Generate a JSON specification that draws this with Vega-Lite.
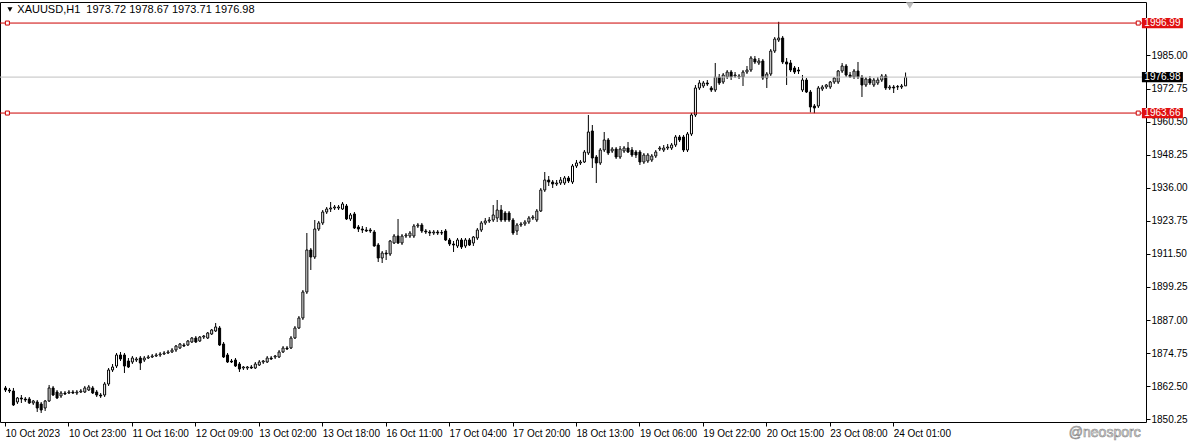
{
"$schema":"https://vega.github.io/schema/vega-lite/v6.json",
"width":1146,"height":420,
"autosize":{"type":"none"},
"padding":{"left":0,"top":2,"right":44,"bottom":21},
"background":"white",
"config":{"view":{"stroke":"#000000","strokeWidth":1},"font":"Liberation Sans","axis":{"labelFont":"Liberation Sans","labelFontSize":10,"labelColor":"#000000","tickColor":"#000000","grid":false,"domain":false,"title":null,"labelOverlap":false,"labelFlush":false,"labelBound":false},"axisY":{"labelOverlap":false,"tickCount":12}},
"datasets":{
"bars":[
{"i":0,"o":1861.83,"h":1862.57,"l":1860.34,"c":1861.08},
{"i":1,"o":1861.08,"h":1861.83,"l":1859.97,"c":1860.71},
{"i":2,"o":1860.71,"h":1861.83,"l":1855.16,"c":1855.53},
{"i":3,"o":1856.64,"h":1858.49,"l":1855.90,"c":1858.12},
{"i":4,"o":1858.12,"h":1859.23,"l":1856.27,"c":1857.75},
{"i":5,"o":1857.75,"h":1858.49,"l":1856.64,"c":1857.38},
{"i":6,"o":1857.75,"h":1858.49,"l":1855.90,"c":1856.27},
{"i":7,"o":1856.27,"h":1857.38,"l":1855.53,"c":1857.01},
{"i":8,"o":1856.64,"h":1857.38,"l":1852.94,"c":1854.42},
{"i":9,"o":1855.90,"h":1856.64,"l":1852.57,"c":1853.68},
{"i":10,"o":1854.42,"h":1857.38,"l":1853.31,"c":1857.01},
{"i":11,"o":1857.01,"h":1862.94,"l":1856.64,"c":1861.83},
{"i":12,"o":1861.83,"h":1862.57,"l":1858.86,"c":1859.23},
{"i":13,"o":1860.34,"h":1861.08,"l":1857.75,"c":1858.12},
{"i":14,"o":1858.86,"h":1860.71,"l":1858.12,"c":1859.97},
{"i":15,"o":1859.97,"h":1860.71,"l":1859.23,"c":1859.60},
{"i":16,"o":1859.97,"h":1861.08,"l":1859.60,"c":1860.34},
{"i":17,"o":1860.34,"h":1861.08,"l":1859.60,"c":1859.97},
{"i":18,"o":1859.97,"h":1861.08,"l":1859.23,"c":1860.34},
{"i":19,"o":1860.34,"h":1861.45,"l":1859.97,"c":1860.71},
{"i":20,"o":1860.34,"h":1862.57,"l":1859.97,"c":1861.83},
{"i":21,"o":1861.08,"h":1862.94,"l":1860.71,"c":1862.20},
{"i":22,"o":1861.83,"h":1862.57,"l":1859.60,"c":1859.97},
{"i":23,"o":1860.34,"h":1861.08,"l":1858.49,"c":1859.23},
{"i":24,"o":1859.23,"h":1859.97,"l":1858.12,"c":1858.86},
{"i":25,"o":1859.23,"h":1864.05,"l":1858.49,"c":1863.31},
{"i":26,"o":1863.31,"h":1869.23,"l":1862.57,"c":1868.49},
{"i":27,"o":1868.49,"h":1870.71,"l":1867.75,"c":1869.60},
{"i":28,"o":1869.97,"h":1874.79,"l":1869.23,"c":1874.05},
{"i":29,"o":1874.05,"h":1875.16,"l":1871.82,"c":1872.56},
{"i":30,"o":1874.05,"h":1874.79,"l":1867.38,"c":1869.97},
{"i":31,"o":1871.82,"h":1872.93,"l":1869.23,"c":1869.60},
{"i":32,"o":1871.45,"h":1873.68,"l":1870.71,"c":1872.93},
{"i":33,"o":1872.19,"h":1873.31,"l":1871.45,"c":1872.56},
{"i":34,"o":1872.93,"h":1873.68,"l":1868.49,"c":1871.08},
{"i":35,"o":1872.19,"h":1873.68,"l":1871.45,"c":1872.93},
{"i":36,"o":1872.93,"h":1874.05,"l":1872.56,"c":1873.31},
{"i":37,"o":1873.31,"h":1874.42,"l":1872.93,"c":1873.68},
{"i":38,"o":1873.68,"h":1874.79,"l":1873.31,"c":1874.05},
{"i":39,"o":1874.05,"h":1875.16,"l":1873.31,"c":1874.42},
{"i":40,"o":1874.42,"h":1875.53,"l":1874.05,"c":1874.79},
{"i":41,"o":1874.79,"h":1875.90,"l":1874.42,"c":1875.16},
{"i":42,"o":1875.16,"h":1876.64,"l":1874.79,"c":1875.90},
{"i":43,"o":1875.90,"h":1877.75,"l":1875.16,"c":1877.38},
{"i":44,"o":1876.64,"h":1878.49,"l":1876.27,"c":1878.12},
{"i":45,"o":1877.75,"h":1878.49,"l":1877.01,"c":1877.38},
{"i":46,"o":1877.75,"h":1879.60,"l":1877.38,"c":1879.23},
{"i":47,"o":1878.86,"h":1880.71,"l":1878.49,"c":1880.34},
{"i":48,"o":1880.34,"h":1881.08,"l":1878.49,"c":1878.86},
{"i":49,"o":1879.23,"h":1881.08,"l":1878.86,"c":1880.71},
{"i":50,"o":1880.71,"h":1881.45,"l":1879.97,"c":1881.08},
{"i":51,"o":1880.34,"h":1882.57,"l":1879.97,"c":1882.20},
{"i":52,"o":1881.82,"h":1883.68,"l":1881.45,"c":1883.31},
{"i":53,"o":1882.94,"h":1885.90,"l":1882.57,"c":1884.42},
{"i":54,"o":1884.05,"h":1884.79,"l":1877.38,"c":1877.75},
{"i":55,"o":1878.12,"h":1878.86,"l":1872.93,"c":1873.31},
{"i":56,"o":1874.05,"h":1874.79,"l":1871.08,"c":1871.45},
{"i":57,"o":1871.82,"h":1872.56,"l":1871.08,"c":1871.45},
{"i":58,"o":1872.19,"h":1872.93,"l":1869.60,"c":1869.97},
{"i":59,"o":1870.71,"h":1871.45,"l":1867.75,"c":1868.86},
{"i":60,"o":1869.23,"h":1869.97,"l":1868.49,"c":1869.60},
{"i":61,"o":1869.23,"h":1869.97,"l":1868.49,"c":1869.60},
{"i":62,"o":1869.60,"h":1870.34,"l":1868.86,"c":1869.23},
{"i":63,"o":1869.23,"h":1871.45,"l":1868.86,"c":1870.71},
{"i":64,"o":1870.34,"h":1872.19,"l":1869.97,"c":1871.45},
{"i":65,"o":1871.45,"h":1872.19,"l":1870.71,"c":1871.82},
{"i":66,"o":1871.45,"h":1873.68,"l":1871.08,"c":1872.93},
{"i":67,"o":1872.93,"h":1873.68,"l":1872.19,"c":1872.56},
{"i":68,"o":1873.31,"h":1874.05,"l":1872.56,"c":1873.68},
{"i":69,"o":1873.31,"h":1875.90,"l":1872.93,"c":1875.16},
{"i":70,"o":1875.16,"h":1877.38,"l":1874.79,"c":1876.64},
{"i":71,"o":1876.64,"h":1877.38,"l":1875.90,"c":1876.27},
{"i":72,"o":1876.64,"h":1881.08,"l":1876.27,"c":1880.34},
{"i":73,"o":1880.34,"h":1884.79,"l":1879.97,"c":1884.05},
{"i":74,"o":1884.05,"h":1888.49,"l":1883.68,"c":1887.75},
{"i":75,"o":1887.75,"h":1898.12,"l":1887.01,"c":1897.38},
{"i":76,"o":1897.38,"h":1919.23,"l":1896.64,"c":1912.94},
{"i":77,"o":1912.94,"h":1913.68,"l":1905.53,"c":1910.34},
{"i":78,"o":1910.34,"h":1924.05,"l":1909.60,"c":1920.71},
{"i":79,"o":1920.71,"h":1923.68,"l":1919.97,"c":1922.94},
{"i":80,"o":1922.94,"h":1927.75,"l":1922.20,"c":1927.01},
{"i":81,"o":1927.01,"h":1928.86,"l":1926.27,"c":1928.12},
{"i":82,"o":1928.12,"h":1930.71,"l":1927.01,"c":1928.49},
{"i":83,"o":1928.49,"h":1929.60,"l":1927.75,"c":1928.86},
{"i":84,"o":1928.49,"h":1929.60,"l":1927.75,"c":1928.86},
{"i":85,"o":1928.12,"h":1930.71,"l":1927.75,"c":1929.97},
{"i":86,"o":1929.23,"h":1929.97,"l":1924.05,"c":1924.42},
{"i":87,"o":1924.42,"h":1926.64,"l":1923.68,"c":1925.90},
{"i":88,"o":1926.27,"h":1927.01,"l":1920.71,"c":1921.08},
{"i":89,"o":1921.45,"h":1922.20,"l":1919.60,"c":1920.71},
{"i":90,"o":1920.71,"h":1921.82,"l":1919.23,"c":1920.34},
{"i":91,"o":1920.34,"h":1921.45,"l":1919.60,"c":1919.97},
{"i":92,"o":1920.34,"h":1921.08,"l":1919.23,"c":1919.97},
{"i":93,"o":1919.60,"h":1920.34,"l":1914.16,"c":1914.42},
{"i":94,"o":1914.79,"h":1915.53,"l":1908.49,"c":1909.97},
{"i":95,"o":1909.97,"h":1912.57,"l":1908.12,"c":1911.82},
{"i":96,"o":1911.82,"h":1912.94,"l":1909.23,"c":1911.45},
{"i":97,"o":1911.45,"h":1916.64,"l":1910.71,"c":1916.27},
{"i":98,"o":1915.53,"h":1918.86,"l":1915.16,"c":1918.12},
{"i":99,"o":1918.12,"h":1924.42,"l":1915.16,"c":1915.53},
{"i":100,"o":1915.53,"h":1918.86,"l":1914.79,"c":1918.12},
{"i":101,"o":1918.12,"h":1919.23,"l":1917.38,"c":1918.49},
{"i":102,"o":1918.12,"h":1919.97,"l":1917.38,"c":1919.23},
{"i":103,"o":1918.12,"h":1922.57,"l":1917.38,"c":1921.82},
{"i":104,"o":1921.82,"h":1922.94,"l":1921.08,"c":1922.20},
{"i":105,"o":1922.20,"h":1922.94,"l":1919.23,"c":1919.97},
{"i":106,"o":1919.97,"h":1920.71,"l":1918.86,"c":1919.60},
{"i":107,"o":1919.60,"h":1920.34,"l":1918.12,"c":1919.23},
{"i":108,"o":1919.23,"h":1920.34,"l":1918.49,"c":1919.60},
{"i":109,"o":1919.60,"h":1920.34,"l":1918.49,"c":1919.23},
{"i":110,"o":1919.23,"h":1920.34,"l":1918.49,"c":1919.40},
{"i":111,"o":1919.97,"h":1920.71,"l":1916.27,"c":1916.64},
{"i":112,"o":1916.64,"h":1917.38,"l":1914.42,"c":1915.16},
{"i":113,"o":1915.16,"h":1916.27,"l":1912.20,"c":1914.79},
{"i":114,"o":1914.42,"h":1917.38,"l":1913.68,"c":1916.64},
{"i":115,"o":1916.64,"h":1917.38,"l":1913.31,"c":1914.05},
{"i":116,"o":1914.42,"h":1917.38,"l":1913.68,"c":1916.64},
{"i":117,"o":1916.64,"h":1917.38,"l":1914.42,"c":1914.79},
{"i":118,"o":1915.53,"h":1918.12,"l":1914.42,"c":1917.75},
{"i":119,"o":1917.38,"h":1921.08,"l":1916.64,"c":1920.34},
{"i":120,"o":1920.34,"h":1923.68,"l":1919.60,"c":1922.94},
{"i":121,"o":1922.94,"h":1924.79,"l":1922.20,"c":1923.68},
{"i":122,"o":1923.68,"h":1925.16,"l":1922.94,"c":1924.05},
{"i":123,"o":1924.05,"h":1929.60,"l":1923.31,"c":1925.90},
{"i":124,"o":1924.79,"h":1931.46,"l":1923.31,"c":1927.75},
{"i":125,"o":1927.75,"h":1929.60,"l":1923.31,"c":1924.05},
{"i":126,"o":1926.64,"h":1927.38,"l":1923.31,"c":1924.05},
{"i":127,"o":1926.64,"h":1927.38,"l":1923.31,"c":1924.05},
{"i":128,"o":1924.05,"h":1924.79,"l":1918.49,"c":1919.23},
{"i":129,"o":1919.97,"h":1922.94,"l":1918.49,"c":1922.20},
{"i":130,"o":1922.20,"h":1923.31,"l":1921.45,"c":1922.57},
{"i":131,"o":1922.57,"h":1924.05,"l":1921.82,"c":1923.31},
{"i":132,"o":1923.31,"h":1925.53,"l":1922.57,"c":1924.79},
{"i":133,"o":1924.79,"h":1925.90,"l":1924.05,"c":1925.16},
{"i":134,"o":1924.05,"h":1928.12,"l":1923.31,"c":1927.38},
{"i":135,"o":1927.38,"h":1935.90,"l":1927.01,"c":1935.16},
{"i":136,"o":1935.16,"h":1941.82,"l":1934.42,"c":1938.86},
{"i":137,"o":1938.86,"h":1940.34,"l":1936.64,"c":1938.12},
{"i":138,"o":1938.12,"h":1938.86,"l":1935.90,"c":1937.38},
{"i":139,"o":1937.38,"h":1938.86,"l":1936.64,"c":1937.75},
{"i":140,"o":1937.75,"h":1939.97,"l":1937.01,"c":1938.86},
{"i":141,"o":1937.75,"h":1940.34,"l":1937.01,"c":1939.60},
{"i":142,"o":1939.60,"h":1940.34,"l":1937.75,"c":1938.49},
{"i":143,"o":1938.12,"h":1944.79,"l":1937.38,"c":1944.05},
{"i":144,"o":1944.05,"h":1946.27,"l":1943.31,"c":1945.16},
{"i":145,"o":1945.16,"h":1946.27,"l":1944.42,"c":1945.53},
{"i":146,"o":1945.53,"h":1949.97,"l":1945.16,"c":1949.23},
{"i":147,"o":1948.86,"h":1962.94,"l":1948.12,"c":1956.64},
{"i":148,"o":1957.01,"h":1959.23,"l":1943.31,"c":1947.01},
{"i":149,"o":1947.38,"h":1948.12,"l":1937.75,"c":1945.16},
{"i":150,"o":1945.16,"h":1950.71,"l":1944.42,"c":1949.97},
{"i":151,"o":1949.97,"h":1956.64,"l":1949.23,"c":1953.68},
{"i":152,"o":1953.68,"h":1954.42,"l":1948.12,"c":1948.86},
{"i":153,"o":1949.60,"h":1951.08,"l":1948.86,"c":1950.34},
{"i":154,"o":1950.34,"h":1951.08,"l":1946.64,"c":1947.38},
{"i":155,"o":1947.38,"h":1951.45,"l":1946.64,"c":1950.34},
{"i":156,"o":1949.60,"h":1951.45,"l":1948.86,"c":1950.71},
{"i":157,"o":1950.71,"h":1952.94,"l":1948.86,"c":1949.23},
{"i":158,"o":1949.97,"h":1951.08,"l":1947.38,"c":1948.12},
{"i":159,"o":1949.23,"h":1949.97,"l":1947.01,"c":1948.12},
{"i":160,"o":1949.23,"h":1949.97,"l":1944.42,"c":1945.53},
{"i":161,"o":1945.53,"h":1948.86,"l":1944.79,"c":1948.12},
{"i":162,"o":1945.90,"h":1948.86,"l":1945.16,"c":1948.12},
{"i":163,"o":1946.27,"h":1948.49,"l":1945.53,"c":1947.75},
{"i":164,"o":1947.75,"h":1949.97,"l":1947.01,"c":1949.23},
{"i":165,"o":1950.34,"h":1951.45,"l":1949.60,"c":1950.71},
{"i":166,"o":1949.97,"h":1951.82,"l":1949.23,"c":1950.71},
{"i":167,"o":1950.71,"h":1952.20,"l":1949.97,"c":1951.08},
{"i":168,"o":1950.71,"h":1952.57,"l":1949.97,"c":1951.82},
{"i":169,"o":1951.82,"h":1955.53,"l":1951.08,"c":1954.79},
{"i":170,"o":1954.79,"h":1955.53,"l":1952.94,"c":1953.68},
{"i":171,"o":1954.79,"h":1955.53,"l":1949.23,"c":1949.97},
{"i":172,"o":1949.97,"h":1956.64,"l":1949.23,"c":1955.90},
{"i":173,"o":1955.90,"h":1963.68,"l":1955.16,"c":1962.94},
{"i":174,"o":1962.94,"h":1974.05,"l":1962.20,"c":1972.94},
{"i":175,"o":1972.94,"h":1975.90,"l":1972.20,"c":1974.79},
{"i":176,"o":1973.68,"h":1975.53,"l":1972.94,"c":1974.79},
{"i":177,"o":1974.79,"h":1975.90,"l":1973.68,"c":1974.42},
{"i":178,"o":1972.94,"h":1973.68,"l":1971.45,"c":1972.20},
{"i":179,"o":1972.20,"h":1982.20,"l":1971.45,"c":1977.01},
{"i":180,"o":1977.01,"h":1978.12,"l":1974.05,"c":1974.79},
{"i":181,"o":1975.16,"h":1978.49,"l":1974.42,"c":1977.75},
{"i":182,"o":1977.01,"h":1979.60,"l":1976.27,"c":1978.86},
{"i":183,"o":1978.86,"h":1979.60,"l":1975.90,"c":1977.01},
{"i":184,"o":1977.38,"h":1978.86,"l":1976.64,"c":1977.75},
{"i":185,"o":1977.01,"h":1978.12,"l":1976.27,"c":1977.38},
{"i":186,"o":1977.01,"h":1979.60,"l":1973.68,"c":1978.86},
{"i":187,"o":1978.86,"h":1981.08,"l":1978.12,"c":1979.60},
{"i":188,"o":1979.60,"h":1984.79,"l":1978.86,"c":1984.05},
{"i":189,"o":1983.68,"h":1984.79,"l":1981.82,"c":1982.57},
{"i":190,"o":1982.20,"h":1984.05,"l":1981.45,"c":1982.94},
{"i":191,"o":1982.94,"h":1983.68,"l":1975.90,"c":1976.64},
{"i":192,"o":1976.64,"h":1978.86,"l":1972.94,"c":1978.12},
{"i":193,"o":1978.12,"h":1987.38,"l":1977.38,"c":1986.64},
{"i":194,"o":1986.64,"h":1991.82,"l":1985.90,"c":1991.08},
{"i":195,"o":1990.71,"h":1997.45,"l":1989.97,"c":1991.45},
{"i":196,"o":1991.45,"h":1992.20,"l":1981.82,"c":1982.57},
{"i":197,"o":1982.57,"h":1984.05,"l":1974.05,"c":1981.82},
{"i":198,"o":1982.20,"h":1983.31,"l":1978.86,"c":1979.60},
{"i":199,"o":1980.34,"h":1981.08,"l":1978.12,"c":1978.86},
{"i":200,"o":1979.60,"h":1980.71,"l":1978.12,"c":1979.23},
{"i":201,"o":1972.20,"h":1977.75,"l":1971.45,"c":1975.90},
{"i":202,"o":1975.90,"h":1976.64,"l":1971.08,"c":1971.45},
{"i":203,"o":1971.45,"h":1972.20,"l":1963.90,"c":1965.90},
{"i":204,"o":1966.27,"h":1967.01,"l":1963.60,"c":1965.53},
{"i":205,"o":1966.27,"h":1973.68,"l":1965.53,"c":1972.94},
{"i":206,"o":1972.57,"h":1974.05,"l":1971.82,"c":1973.31},
{"i":207,"o":1973.31,"h":1974.42,"l":1972.57,"c":1974.05},
{"i":208,"o":1973.31,"h":1975.53,"l":1972.57,"c":1975.16},
{"i":209,"o":1975.16,"h":1977.01,"l":1974.42,"c":1976.64},
{"i":210,"o":1975.16,"h":1979.60,"l":1974.42,"c":1979.23},
{"i":211,"o":1979.23,"h":1982.20,"l":1978.49,"c":1981.08},
{"i":212,"o":1981.08,"h":1981.82,"l":1977.01,"c":1977.75},
{"i":213,"o":1977.75,"h":1978.86,"l":1976.64,"c":1977.01},
{"i":214,"o":1977.01,"h":1979.97,"l":1976.27,"c":1979.23},
{"i":215,"o":1979.23,"h":1982.57,"l":1976.27,"c":1977.01},
{"i":216,"o":1977.01,"h":1977.75,"l":1969.60,"c":1974.05},
{"i":217,"o":1974.05,"h":1977.01,"l":1973.31,"c":1976.27},
{"i":218,"o":1976.27,"h":1977.38,"l":1974.05,"c":1974.79},
{"i":219,"o":1974.05,"h":1976.64,"l":1973.31,"c":1975.90},
{"i":220,"o":1974.79,"h":1977.01,"l":1974.05,"c":1975.90},
{"i":221,"o":1975.90,"h":1978.12,"l":1975.16,"c":1977.38},
{"i":222,"o":1977.38,"h":1978.12,"l":1972.20,"c":1972.94},
{"i":223,"o":1972.94,"h":1974.05,"l":1972.20,"c":1973.31},
{"i":224,"o":1973.31,"h":1974.05,"l":1971.08,"c":1972.94},
{"i":225,"o":1973.31,"h":1974.05,"l":1972.20,"c":1973.50},
{"i":226,"o":1973.31,"h":1974.42,"l":1972.57,"c":1973.68},
{"i":227,"o":1973.72,"h":1978.67,"l":1973.71,"c":1976.98}
],
"levels":[
{"lvl":1996.99,"kind":"line"},
{"lvl":1963.66,"kind":"line"},
{"lvl":1976.98,"kind":"last"}
],
"head":[{"t":"XAUUSD,H1\u00a0 1973.72 1978.67 1973.71 1976.98"}],
"mark":[{"t":"@neosporc"}]
},
"layer":[
{"data":{"name":"bars"},"mark":{"type":"rule","color":"#000000","strokeWidth":1,"xOffset":0.5},
 "encoding":{"x":{"field":"i","type":"quantitative","scale":{"domain":[0,286.5],"nice":false,"zero":false},
   "axis":{"orient":"bottom","values":[0,16,32,48,64,80,96,112,128,144,160,176,192,208,224],"labelExpr":"['10 Oct 2023','10 Oct 23:00','11 Oct 16:00','12 Oct 09:00','13 Oct 02:00','13 Oct 18:00','16 Oct 11:00','17 Oct 04:00','17 Oct 20:00','18 Oct 13:00','19 Oct 06:00','19 Oct 22:00','20 Oct 15:00','23 Oct 08:00','24 Oct 01:00'][round(datum.value/16)]","tickSize":4,"labelAlign":"left","labelPadding":2,"labelFlush":false,"labelOverlap":false,"labelBound":false}},
  "y":{"field":"l","type":"quantitative","scale":{"domain":[1849.23,2004.79],"nice":false,"zero":false},
   "axis":{"orient":"right","values":[1850.25,1862.5,1874.75,1887,1899.25,1911.5,1923.75,1936,1948.25,1960.5,1972.75,1985],"format":".2f","tickSize":4,"labelPadding":1,"labelFlush":false,"labelOverlap":false,"labelBound":false}},
  "y2":{"field":"h"}}},
{"data":{"name":"bars"},"mark":{"type":"bar","width":2,"stroke":"#000000","strokeWidth":1,"xOffset":0.5},
 "encoding":{"x":{"field":"i","type":"quantitative"},
  "y":{"field":"o","type":"quantitative"},"y2":{"field":"c"},
  "fill":{"condition":{"test":"datum.c >= datum.o","value":"#ffffff"},"value":"#000000"}}},
{"data":{"name":"levels"},"mark":{"type":"rule","strokeWidth":1},
 "encoding":{"y":{"field":"lvl","type":"quantitative"},
  "stroke":{"field":"kind","type":"nominal","scale":{"domain":["line","last"],"range":["#cc0000","#c0c0c0"]},"legend":null}}},
{"data":{"name":"levels"},"transform":[{"filter":"datum.kind == 'line'"}],
 "mark":{"type":"point","shape":"square","size":16,"filled":true,"fill":"#ffffff","stroke":"#cc0000","strokeWidth":1,"opacity":1},
 "encoding":{"x":{"datum":0.6},"y":{"field":"lvl","type":"quantitative"}}},
{"data":{"name":"levels"},"transform":[{"filter":"datum.kind == 'line'"}],
 "mark":{"type":"point","shape":"square","size":16,"filled":true,"fill":"#ffffff","stroke":"#cc0000","strokeWidth":1,"opacity":1},
 "encoding":{"x":{"datum":285.8},"y":{"field":"lvl","type":"quantitative"}}},
{"data":{"name":"levels"},
 "mark":{"type":"point","shape":"M-1,-0.25L1,-0.25L1,0.25L-1,0.25Z","size":1681,"filled":true,"opacity":1,"clip":false},
 "encoding":{"x":{"datum":291.9},"y":{"field":"lvl","type":"quantitative"},
  "fill":{"field":"kind","type":"nominal","scale":{"domain":["line","last"],"range":["#e01010","#000000"]},"legend":null}}},
{"data":{"name":"levels"},
 "mark":{"type":"text","color":"#ffffff","fontSize":10,"align":"center","baseline":"middle","clip":false},
 "encoding":{"x":{"datum":291.9},"y":{"field":"lvl","type":"quantitative"},"text":{"field":"lvl","type":"quantitative","format":".2f"}}},
{"data":{"name":"head"},
 "mark":{"type":"point","shape":"triangle-down","size":26,"filled":true,"color":"#000000","opacity":1},
 "encoding":{"x":{"datum":1.25},"y":{"datum":2002.0}}},
{"data":{"name":"head"},
 "mark":{"type":"text","color":"#000000","fontSize":11,"align":"left","baseline":"middle"},
 "encoding":{"x":{"datum":3.1},"y":{"datum":2002.0},"text":{"field":"t"}}},
{"data":{"name":"head"},
 "mark":{"type":"point","shape":"triangle-down","size":60,"filled":true,"color":"#bdbdbd","opacity":1},
 "encoding":{"x":{"datum":228.2},"y":{"datum":2003.5}}},
{"data":{"name":"mark"},
 "mark":{"type":"text","fill":"#ffffff","stroke":"#8c8c8c","strokeWidth":0.7,"fontSize":14,"align":"left","baseline":"middle","clip":false},
 "encoding":{"x":{"datum":268.3},"y":{"datum":1845.2},"text":{"field":"t"}}}
]
}
